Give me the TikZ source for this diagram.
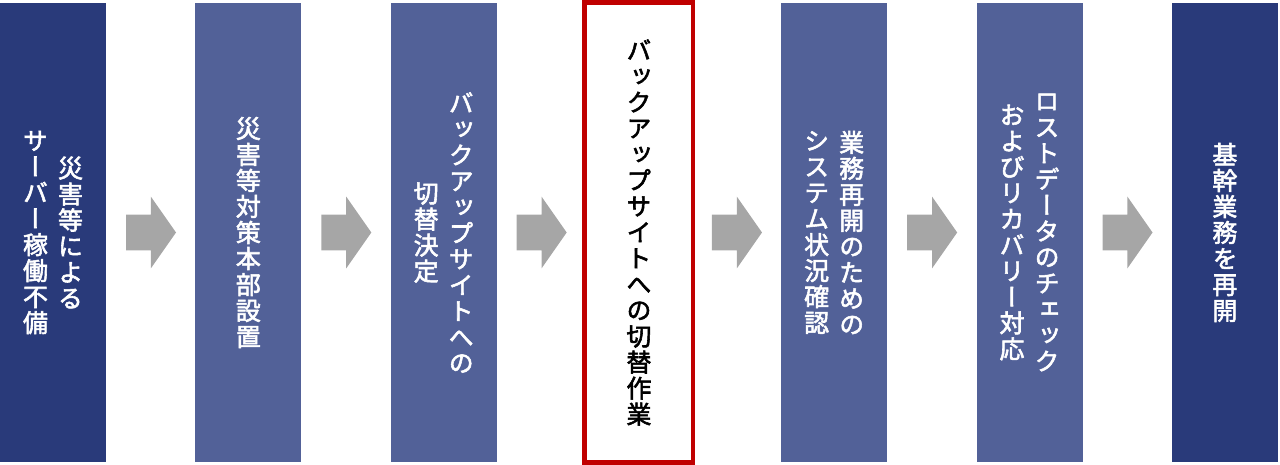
\documentclass[tikz,border=0pt]{standalone}
\usepackage{fontspec}
\newfontfamily\cjk{Noto Sans CJK JP}[RawFeature=+vert, FakeBold=2.2]
\usetikzlibrary{positioning,shapes.arrows}
\definecolor{DarkNavy}{RGB}{41,58,122}
\definecolor{MidNavy}{RGB}{82,97,152}
\definecolor{StepRed}{RGB}{192,0,0}
\definecolor{ArrowGray}{RGB}{166,166,166}
\makeatletter
\newcommand\tatecol[1]{\vbox{\baselineskip=13pt\lineskip=0pt\lineskiplimit=-20pt
  \@tfor\tch:=#1\do{\hbox to 1em{\hss\tch\hss}}}}
\makeatother
\newcommand\tate[2]{\hbox{$\vcenter{\tatecol{#2}}$\hskip5pt$\vcenter{\tatecol{#1}}$}}% right column first
\newcommand\tateone[1]{\hbox{$\vcenter{\tatecol{#1}}$}}

\begin{document}
\begin{tikzpicture}[
    stepbox/.style={rectangle, minimum width=53pt, minimum height=229.5pt, inner sep=0pt, outer sep=0pt,
        font=\cjk\fontsize{12.5pt}{13pt}\selectfont},
    darkstep/.style={stepbox, fill=DarkNavy, text=white},
    midstep/.style={stepbox, fill=MidNavy, text=white},
    focusstep/.style={stepbox, fill=white, draw=StepRed, line width=2.25pt, text=black,
        minimum width=54.25pt, minimum height=230pt},
    flowarrow/.style={single arrow, fill=ArrowGray, minimum height=25pt, inner xsep=0pt, inner ysep=8.75pt,
        single arrow head extend=9pt, single arrow tip angle=110, outer sep=0pt},
    node distance=44.67pt
]
    \useasboundingbox (0,0) rectangle (640pt,-232.5pt);
    % steps
    \node [darkstep, anchor=west] (s1) at (0pt,-116.25pt) {\tate{災害等による}{サーバー稼働不備}};
    \node [midstep, right=of s1] (s2) {\tateone{災害等対策本部設置}};
    \node [midstep, right=of s2] (s3) {\tate{バックアップサイトへの}{切替決定}};
    \node [focusstep, right=44pt of s3] (s4) {\tateone{バックアップサイトへの切替作業}};
    \node [midstep, right=44pt of s4] (s5) {\tate{業務再開のための}{システム状況確認}};
    \node [midstep, right=of s5] (s6) {\tate{ロストデータのチェック}{およびリカバリー対応}};
    \node [darkstep, right=of s6] (s7) {\tateone{基幹業務を再開}};
    % arrows between steps
    \node [flowarrow, right=10pt of s1] (a1) {};
    \node [flowarrow, right=10pt of s2] (a2) {};
    \node [flowarrow, right=10pt of s3] (a3) {};
    \node [flowarrow, right=9.4pt of s4] (a4) {};
    \node [flowarrow, right=10pt of s5] (a5) {};
    \node [flowarrow, right=10pt of s6] (a6) {};
\end{tikzpicture}
\end{document}
